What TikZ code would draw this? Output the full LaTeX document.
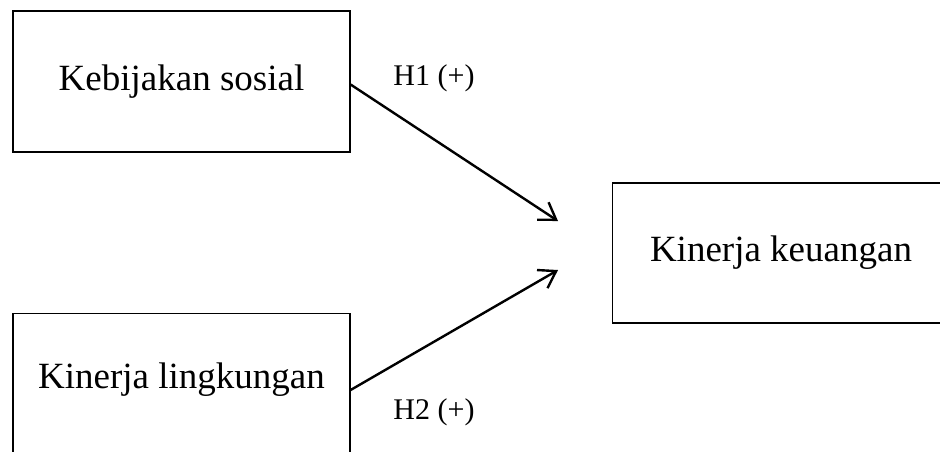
\documentclass[tikz,border=0pt]{standalone}
\usepackage{fontspec}
\setmainfont{Liberation Serif}
\usetikzlibrary{arrows.meta}

\begin{document}
\begin{tikzpicture}[x=1pt,y=-1pt,
  kotak/.style={draw, line width=1.2pt, inner xsep=0pt, font=\fontsize{37}{44}\selectfont},
  panah/.style={line width=2.4pt, -{Straight Barb[length=16pt,width=21pt,line width=2.4pt]}},
  hip/.style={font=\fontsize{30}{36}\selectfont}]
\useasboundingbox (0,0) rectangle (940,451);
\node[kotak, minimum width=337pt, minimum height=141pt] (ks) at (181.5,81.5) {Kebijakan sosial};
\node[kotak, minimum width=337pt, anchor=north, inner ysep=49pt, text depth=60pt] (kl) at (181.5,313) {Kinerja lingkungan};
\node[kotak, minimum width=337pt, minimum height=140pt] (kk) at (781,253) {Kinerja keuangan};
\coordinate (u1) at (558,221);
\coordinate (u2) at (558,270);
\draw[panah] ([yshift=-3pt]ks.east) -- (u1);
\draw[panah] ([yshift=-77pt]kl.north east) -- (u2);
\node[hip] (h1) at (434,78) {H1 (+)};
\node[hip] (h2) at (434,412) {H2 (+)};
\end{tikzpicture}
\end{document}
